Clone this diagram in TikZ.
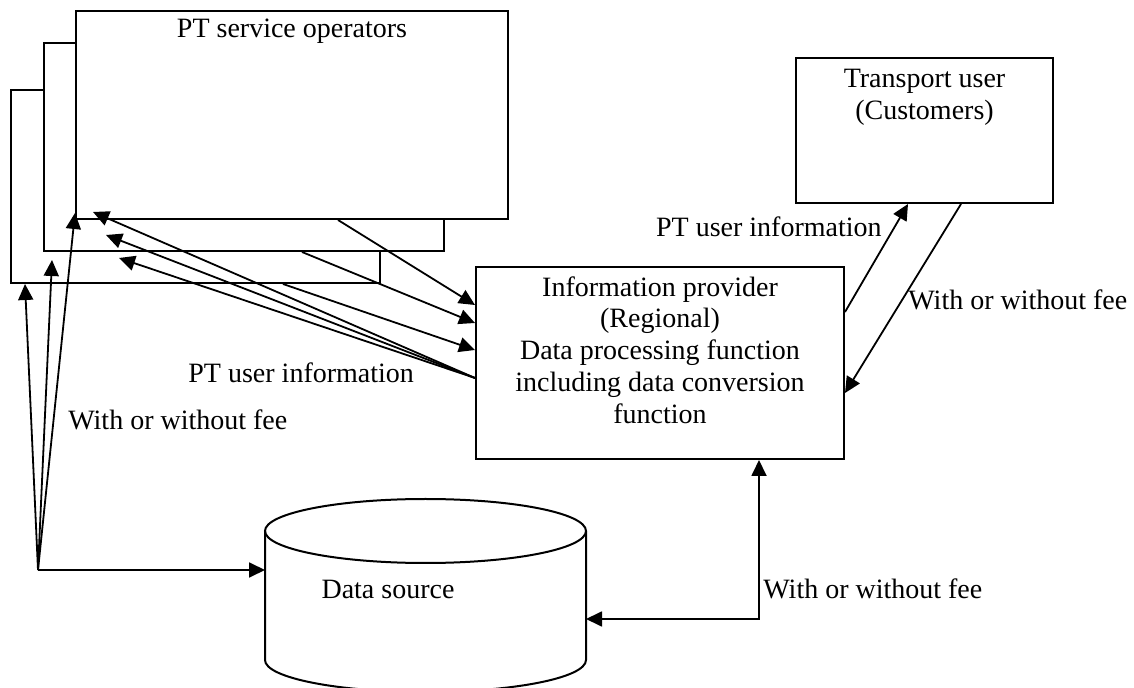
\documentclass[tikz,border=0pt]{standalone}
\usepackage{fontspec}
\setmainfont{Liberation Serif}
\usetikzlibrary{positioning}
\usetikzlibrary{arrows.meta}

\tikzset{
  opbox/.style={draw, line width=1pt, fill=white, rectangle, inner sep=0pt},
  txt/.style={inner sep=0pt},
  lbl/.style={inner sep=0pt, anchor=base west},
  flow/.style={line width=0.9pt, -{Triangle[length=8pt,width=7.5pt]}},
  flowboth/.style={line width=0.9pt, {Triangle[length=8pt,width=7.5pt]}-{Triangle[length=8pt,width=7.5pt]}},
}

\begin{document}
\begin{tikzpicture}[x=0.5pt, y=-0.5pt, font=\fontsize{14}{15.9}\selectfont]
\useasboundingbox (0,0) rectangle (1134,688);

%%%%%%%%%% PT service operators %%%%%%%%
{
\node[opbox, minimum width=184.5pt, minimum height=96.5pt] (opC) at (195.5,186.5) {};
\node[opbox, minimum width=200pt, minimum height=104pt] (opB) at (244,147) {};
\node[opbox, minimum width=216pt, minimum height=104pt] (opA) at (292,115) {};
\node[txt, anchor=base] (opAtxt) at (292,38) {PT service operators};
}

%%%%%%%%%% Information provider %%%%%%%%
{
\node[opbox, minimum width=184pt, minimum height=96pt] (ip) at (660,363) {};
\node[txt, align=center, anchor=north] (iptxt) at (660,276) {Information provider\\(Regional)\\Data processing function\\including data conversion\\function};
}

%%%%%%%%%% Transport user %%%%%%%%
{
\node[opbox, minimum width=128.5pt, minimum height=72.5pt] (tu) at (924.5,130.5) {};
\node[txt, align=center, anchor=north] (tutxt) at (924.5,68.5) {Transport user\\(Customers)};
}

%%%%%%%%%% Data source %%%%%%%%
{
\coordinate (cyltop) at (425.5,531);
\draw[line width=1pt] (cyltop) ellipse [x radius=80.25pt, y radius=16pt];
\draw[line width=1pt] (265,531) -- (265,660) arc[start angle=180, end angle=360, x radius=80.25pt, y radius=16pt] -- (586,531);
\node[txt, anchor=base] (src) at (388,599) {Data source};
\coordinate (cylW) at (265,570);
\coordinate (cylE) at (586,619);
}

%%%%%%%%%% Operators <-> provider %%%%%%%%
{
\draw[flow] ([xshift=23pt]opA.south) -- ([yshift=29pt]ip.west);
\draw[flow] ([xshift=29pt]opB.south) -- ([yshift=20pt]ip.west);
\draw[flow] ([xshift=43.75pt]opC.south) -- ([yshift=6.5pt]ip.west);

\coordinate (ipfan) at ([yshift=-7.5pt]ip.west);
\coordinate (tipA) at (93,212);
\coordinate (tipB) at (106,235);
\coordinate (tipC) at (119,258);
\draw[flow] (ipfan) -- (tipA);
\draw[flow] (ipfan) -- (tipB);
\draw[flow] (ipfan) -- (tipC);
}

%%%%%%%%%% Fee to operators and source %%%%%%%%
{
\coordinate (feefan) at (38,570);
\coordinate (feeB) at (52,260);
\draw[flow] (feefan) -- ([xshift=7.5pt]opC.south west);
\draw[flow] (feefan) -- (feeB);
\draw[flow] (feefan) -- ([yshift=3.5pt]opA.south west);
\draw[flow] (feefan) -- (cylW);
}

%%%%%%%%%% Provider <-> user and source %%%%%%%%
{
\draw[flow] ([yshift=25.5pt]ip.east) -- ([xshift=-8.25pt]tu.south);
\draw[flow] ([xshift=18.25pt]tu.south) -- ([yshift=-15pt]ip.east);
\draw[flowboth] (cylE) -| ([xshift=49.5pt]ip.south);
}

%%%%%%%%%% Labels %%%%%%%%
{
\node[lbl] (infoL) at (188,383) {PT user information};
\node[lbl] (feeL) at (68,430) {With or without fee};
\node[lbl, anchor=base east] (infoR) at (882,237) {PT user information};
\node[lbl] (feeR) at (908,310) {With or without fee};
\node[lbl] (feeBot) at (763,599) {With or without fee};
}

\end{tikzpicture}
\end{document}
